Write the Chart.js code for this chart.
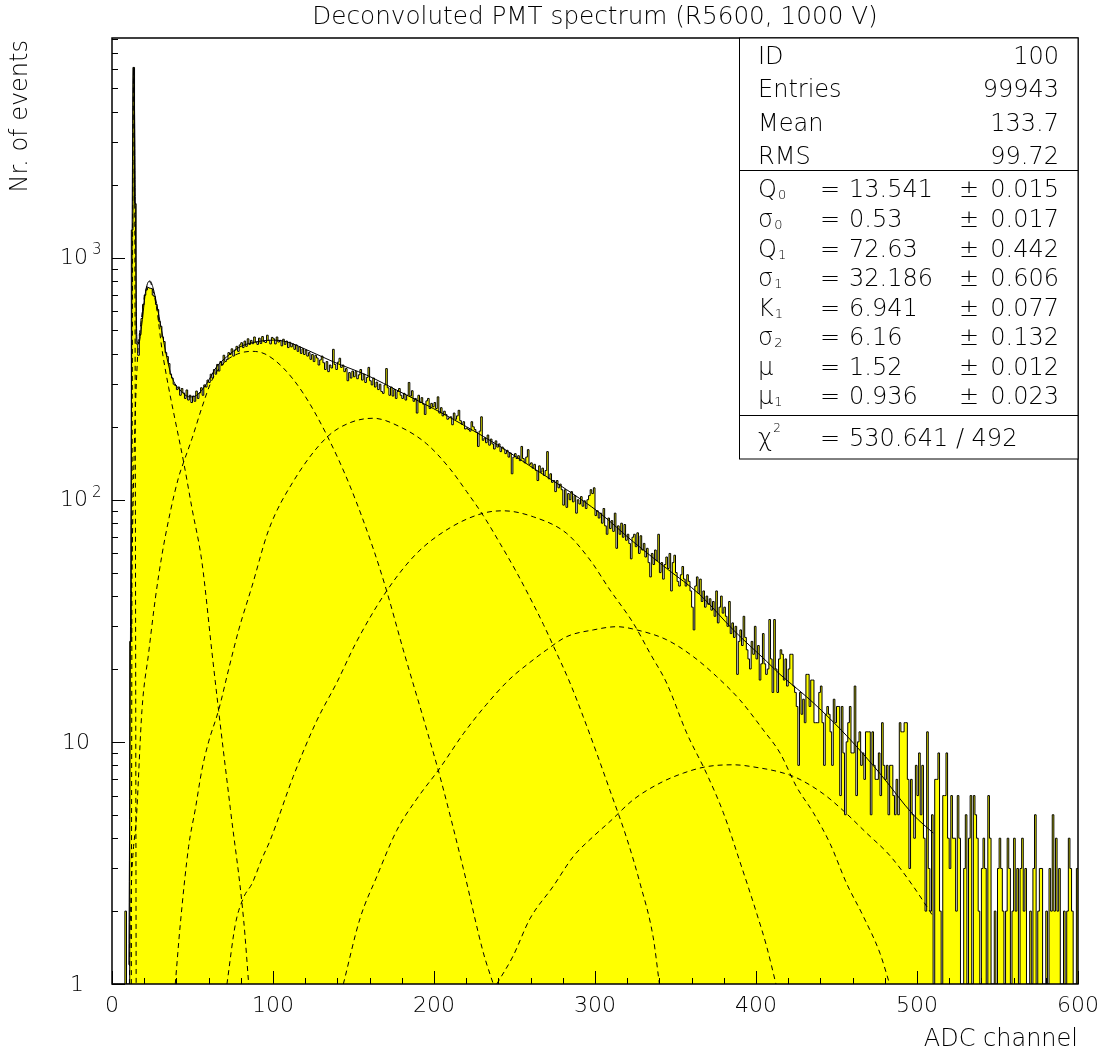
<!DOCTYPE html>
<html>
<head>
<meta charset="utf-8">
<script src="https://cdn.jsdelivr.net/npm/chart.js@4.4.1/dist/chart.umd.min.js"></script>
<style>
  html, body { margin: 0; padding: 0; background: #fff; }
  #wrap { width: 1106px; height: 1057px; position: relative; }
</style>
</head>
<body>
<div id="wrap"><canvas id="chart"></canvas></div>
<script>
// histogram: one bin per ADC channel, starting at channel 0
const firstChannel = 0;
const counts = [
  0,0,0,0,0,0,0,0,2,0,0,26,1300,6100,1670,440,395,480,560,640,
  700,735,752,748,745,700,690,640,610,545,520,470,450,405,390,365,330,318,300,296,
  285,292,270,288,276,262,284,258,270,252,268,255,281,262,276,290,270,298,292,312,
  305,330,318,345,330,362,340,372,360,395,372,380,405,398,420,392,415,430,410,436,
  445,425,452,430,462,438,455,441,470,448,438,465,442,472,450,446,478,455,440,468,
  462,440,470,448,455,432,460,438,452,425,447,428,440,418,436,410,428,402,420,398,
  415,392,405,380,398,372,395,385,360,378,392,368,345,372,338,360,350,418,362,345,
  370,384,352,360,338,348,310,335,318,340,322,338,316,328,345,312,330,305,320,352,
  310,298,318,292,306,285,300,280,275,298,348,290,270,292,268,285,262,280,288,270,
  262,275,258,270,305,268,282,255,262,228,270,252,264,248,225,256,262,238,250,242,
  252,238,266,228,240,222,232,225,215,218,220,204,228,215,222,234,212,205,210,196,
  198,195,192,210,200,195,190,166,192,220,176,180,172,185,168,178,170,162,175,165,
  170,158,165,162,155,160,150,156,128,150,155,148,152,145,166,148,142,150,161,140,
  142,135,140,132,120,138,130,135,126,132,158,122,128,118,120,108,120,112,116,110,
  95,110,93,106,100,108,98,104,88,100,96,103,94,99,92,100,104,110,106,112,
  86,90,84,88,80,92,78,72,84,76,82,74,88,63,78,72,80,70,79,68,
  72,66,57,70,72,64,73,60,71,62,66,58,63,55,48,60,54,62,56,72,
  50,55,47,54,58,52,60,42,55,59,50,46,44,49,53,47,44,49,46,42,
  36,29,44,48,41,47,38,42,36,40,37,39,35,38,33,42,31,36,40,34,
  36,33,30,38,28,31,27,30,19,26,29,25,33,27,24,22,20,26,23,30,
  22,25,18,21,28,21,19,20,32,22,16,32,20,16,22,24,23,18,22,17,
  20,23,23,17,16,14,8,16,13,15,12,19,19,14,18,18,12,12,12,16,
  17,12,8,13,14,13,11,8,15,12,14,14,6,14,9,5,10,12,14,9,
  9,17,6,10,11,8,9,7,11,11,11,5,11,8,7,7,9,6,12,8,
  7,8,5,8,8,6,5,7,5,12,11,11,12,12,7,3,7,5,4,8,
  6,9,5,8,4,2,11,3,2,5,0,7,7,9,2,0,6,6,9,4,
  3,6,4,4,2,6,4,1,0,3,5,1,4,6,0,6,5,4,2,1,
  3,4,3,0,6,4,1,0,2,1,3,4,3,2,1,2,4,3,0,2,
  4,2,3,1,3,4,2,3,0,1,2,0,3,5,1,2,3,3,0,1,
  2,0,3,2,5,2,4,2,3,0,1,2,0,2,4,3,2,1,0,3
];

// total fit (solid line)
const fitX = [10.5,11.5,12.2,12.8,13.5,14.2,14.8,15.5,16.5,18.6,20.7,22,23.6,25.5,27.7,30.8,34,37.1,42.2,48.4,
  52.6,58.8,65,71.2,79.5,89.9,100.2,108.5,116.8,137.5,158.2,178.9,199.6,220.3,241,261.7,282.4,303.1,323.8,344.5,
  365.2,385.9,406.6,414.9,427.3,435.6,456.3,477,497.7,510.1];
const fitY = [1.2,30,400,3000,6100,3000,900,460,440,537,711,780,801,750,646,501,389,322,284,266,
  270,302,354,389,428,449,456,449,428,371,327,279,238,200,166,135,110,88,67,52,
  40.5,29,21.5,19,16.2,14.5,10.6,7.4,5,4.2];

// fit components (dashed lines)
const pedX = [12.0,12.6,13.0,13.5,14.0,14.4,15.0];
const pedY = [1,300,2500,6100,2500,300,1];

const lowX = [12,14,16,18,20,22,23.5,25,27.7,31,35.2,39.3,44.5,49.7,55.9,62.1,66.2,73.5,81.8,84.9];
const lowY = [40,180,400,540,680,770,795,750,620,420,290,212,143,92,55,23.4,13.5,5.3,1.83,1];

const pe1X = [10.8,11.4,15.5,18.6,22.8,26.9,31,36.2,41.4,44.5,49.7,55.9,62.1,70,78,87,95,106.4,118.8,133.4,
  147.8,162.3,170.6,180.9,195.5,203.7,218.2,230.6,236.8];
const pe1Y = [1,1.83,5.3,13.5,23.4,39,59,89,124,143,179,241,312,370,400,410,400,350,275,185,
  114,62.7,42,24,11.2,7.2,3.0,1.35,1];

const pe2X = [39.3,42.4,47.6,51.8,55.9,60,66.2,72.5,78.7,87,97.3,112.6,133.4,147.8,162.3,178.9,195.5,210,220.3,230.6,
  241,251.4,261.7,268,274,284.5,292.7,301,309.3,319.7,328,336.2,340];
const pe2Y = [1,1.76,3.7,5.3,7.7,10,13.5,20,29,44,75,119,181,208,217,200,170,134,108,86,
  66,50,37,30.5,25,17.5,12.7,9,6.3,4,2.6,1.55,1];

const pe3X = [71.4,76.6,81.8,87,93.2,98.1,112.6,127.1,139.5,152,170.6,189.2,210,230.6,243,261.7,282.4,296.9,309.3,323.8,
  334.2,344.5,356.9,369.3,379.7,390,400.4,406.6,412.4];
const pe3Y = [1,1.76,2.28,2.6,3.3,3.9,7.2,12.2,17.5,26,42,60,76.6,88,90,85,72.6,56.4,42.4,30.9,
  23.2,17.5,10.9,7.4,5.1,3.2,1.96,1.43,1];

const pe4X = [143.7,154,164.4,176.8,189.2,203.7,218.2,232.7,247.2,259.6,270,282.4,299,313.5,325.9,344.5,361,375.6,390,404.5,
  414.9,425.3,435.6,446,456.3,466.7,477,483];
const pe4Y = [1,1.86,2.77,4.3,5.8,7.8,10.8,14.3,18.2,21.3,24,27.2,29,29.9,29,26.4,22.5,18.6,14.9,11.2,
  9.0,6.5,5.1,3.8,2.6,1.9,1.34,1];

const pe5X = [239,249,259.6,274,286.5,299,309.3,323.8,340.4,354.9,369.3,385.9,402.5,414.9,425.3,441.8,454.2,468.7,483,497.7,510.1];
const pe5Y = [1,1.3,1.86,2.53,3.36,4.07,4.69,5.77,6.76,7.43,7.9,8.04,7.8,7.5,7.1,6.1,5.2,4.2,3.4,2.53,1.9];

// axes
const xMin = 0, xMax = 600;
const yMin = 1, yMax = 8070;
const xTickValues = [0, 100, 200, 300, 400, 500, 600];
const xTickLabels = ['0', '100', '200', '300', '400', '500', '600'];
const yTickValues = [1, 10, 100, 1000];
const yTickBases = ['1', '10', '10', '10'];
const yTickExps = ['', '', '2', '3'];

// statistics box
const statNames = ['ID', 'Entries', 'Mean', 'RMS'];
const statValues = ['100', '99943', '133.7', '99.72'];
const parSymbols = ['Q', 'σ', 'Q', 'σ', 'K', 'σ', 'μ', 'μ'];
const parIndices = ['0', '0', '1', '1', '1', '2', '', '1'];
const parValues = ['13.541', '0.53', '72.63', '32.186', '6.941', '6.16', '1.52', '0.936'];
const parErrors = ['0.015', '0.017', '0.442', '0.606', '0.077', '0.132', '0.012', '0.023'];
const chi2Text = '530.641 / 492';

const FONT = "'DejaVu Sans', 'Liberation Sans', sans-serif";
const W = '200';

function f(size) {
  return W + ' ' + size + 'px ' + FONT;
}

function seg(ctx, x1, y1, x2, y2) {
  ctx.beginPath();
  ctx.moveTo(x1, y1);
  ctx.lineTo(x2, y2);
  ctx.stroke();
}

const histPoints = counts.map((c, i) => ({ x: firstChannel + i, y: Math.max(c, yMin) }));
histPoints.push({ x: firstChannel + counts.length, y: Math.max(counts[counts.length - 1], yMin) });

function curve(xs, ys, dashed) {
  return {
    data: xs.map((x, i) => ({ x: x, y: ys[i] })),
    borderColor: '#000',
    borderWidth: 1,
    borderDash: dashed ? [5, 4] : [],
    fill: false,
    pointRadius: 0,
    cubicInterpolationMode: 'monotone',
    order: 1
  };
}

// frame, ticks, labels and the stats box, drawn ROOT style
const rootDecor = {
  id: 'rootDecor',
  afterDraw(chart) {
    const ctx = chart.ctx;
    const a = chart.chartArea;
    const x = chart.scales.x, y = chart.scales.y;
    ctx.save();
    ctx.strokeStyle = '#000';
    ctx.fillStyle = '#000';

    // ticks (inside the frame)
    ctx.lineWidth = 1;
    for (let v = xMin; v <= xMax; v += 20) {
      const px = Math.round(x.getPixelForValue(v)) + 0.5;
      seg(ctx, px, a.bottom, px, a.bottom - (v % 100 === 0 ? 13 : 6));
    }
    for (let d = 1; d <= yMax; d *= 10) {
      for (let m = 1; m <= 9; m++) {
        const v = m * d;
        if (v > yMax) break;
        const py = Math.round(y.getPixelForValue(v)) + 0.5;
        seg(ctx, a.left, py, a.left + (m === 1 ? 13 : 6), py);
      }
    }

    // frame
    ctx.lineWidth = 1.5;
    ctx.strokeRect(a.left, a.top, a.right - a.left, a.bottom - a.top);

    // x labels
    ctx.font = f(22);
    ctx.textAlign = 'center';
    ctx.textBaseline = 'middle';
    xTickValues.forEach((v, i) => {
      ctx.fillText(xTickLabels[i], x.getPixelForValue(v), 1006);
    });

    // y labels
    yTickValues.forEach((v, i) => {
      const py = y.getPixelForValue(v);
      ctx.font = f(22);
      ctx.textBaseline = 'middle';
      ctx.textAlign = 'right';
      if (yTickExps[i]) {
        ctx.fillText(yTickBases[i], 88, py + 1);
        ctx.font = f(15);
        ctx.textAlign = 'left';
        ctx.fillText(yTickExps[i], 92, py - 7);
      } else {
        ctx.fillText(yTickBases[i], yTickBases[i].length > 1 ? 90 : 84, py + 1);
      }
    });

    // title and axis titles
    ctx.font = f(24.7);
    ctx.textAlign = 'center';
    ctx.textBaseline = 'middle';
    ctx.fillText('Deconvoluted PMT spectrum (R5600, 1000 V)', (a.left + a.right) / 2, 18);
    ctx.font = f(24);
    ctx.textAlign = 'right';
    ctx.fillText('ADC channel', a.right, 1040);
    ctx.save();
    ctx.translate(21, a.top + 2);
    ctx.rotate(-Math.PI / 2);
    ctx.textAlign = 'right';
    ctx.fillText('Nr. of events', 0, 0);
    ctx.restore();

    // stats box
    const bl = 739.5, br = a.right, bt = a.top, bb = 459;
    ctx.fillStyle = '#fff';
    ctx.fillRect(bl, bt, br - bl, bb - bt);
    ctx.fillStyle = '#000';
    ctx.lineWidth = 1;
    ctx.strokeRect(bl, bt, br - bl, bb - bt);
    seg(ctx, bl, 170.5, br, 170.5);
    seg(ctx, bl, 415.5, br, 415.5);

    const lx = 758, eqx = 820, vx = 849, pmx = 959, rx = 1059;
    const base = 8.7;
    ctx.textBaseline = 'alphabetic';
    const statRows = [55, 88, 122, 155];
    statNames.forEach((n, i) => {
      ctx.font = f(24);
      ctx.textAlign = 'left';
      ctx.fillText(n, lx, statRows[i] + base);
      ctx.textAlign = 'right';
      ctx.fillText(statValues[i], rx, statRows[i] + base);
    });

    const parRows = [188, 218, 248, 277, 307, 336, 366, 395];
    parSymbols.forEach((s, i) => {
      const yb = parRows[i] + base;
      ctx.textAlign = 'left';
      ctx.font = f(24);
      ctx.fillText(s, lx, yb);
      const w = ctx.measureText(s).width;
      if (parIndices[i]) {
        ctx.font = f(13);
        ctx.fillText(parIndices[i], lx + w + 1, yb + 2);
      }
      ctx.font = f(24);
      ctx.fillText('=', eqx, yb);
      ctx.fillText(parValues[i], vx, yb);
      ctx.fillText('±', pmx, yb);
      ctx.textAlign = 'right';
      ctx.fillText(parErrors[i], rx, yb);
    });

    const cy = 437 + base;
    ctx.textAlign = 'left';
    ctx.font = f(24);
    ctx.fillText('χ', lx, cy);
    const cw = ctx.measureText('χ').width;
    ctx.font = f(12);
    ctx.fillText('2', lx + cw + 1, cy - 14);
    ctx.font = f(24);
    ctx.fillText('=', eqx, cy);
    ctx.fillText(chi2Text, vx, cy);

    ctx.restore();
  }
};

new Chart(document.getElementById('chart'), {
  type: 'line',
  data: {
    datasets: [
      {
        data: histPoints,
        stepped: 'before',
        fill: 'start',
        backgroundColor: '#ffff00',
        borderColor: '#000',
        borderWidth: 1,
        pointRadius: 0,
        order: 10
      },
      curve(fitX, fitY, false),
      curve(pedX, pedY, true),
      curve(lowX, lowY, true),
      curve(pe1X, pe1Y, true),
      curve(pe2X, pe2Y, true),
      curve(pe3X, pe3Y, true),
      curve(pe4X, pe4Y, true),
      curve(pe5X, pe5Y, true)
    ]
  },
  options: {
    responsive: true,
    maintainAspectRatio: false,
    animation: false,
    layout: { padding: { left: 112, top: 38, right: 28, bottom: 73 } },
    plugins: { legend: { display: false }, tooltip: { enabled: false } },
    scales: {
      x: { type: 'linear', min: xMin, max: xMax, display: false },
      y: { type: 'logarithmic', min: yMin, max: yMax, display: false }
    }
  },
  plugins: [rootDecor]
});
</script>
</body>
</html>
